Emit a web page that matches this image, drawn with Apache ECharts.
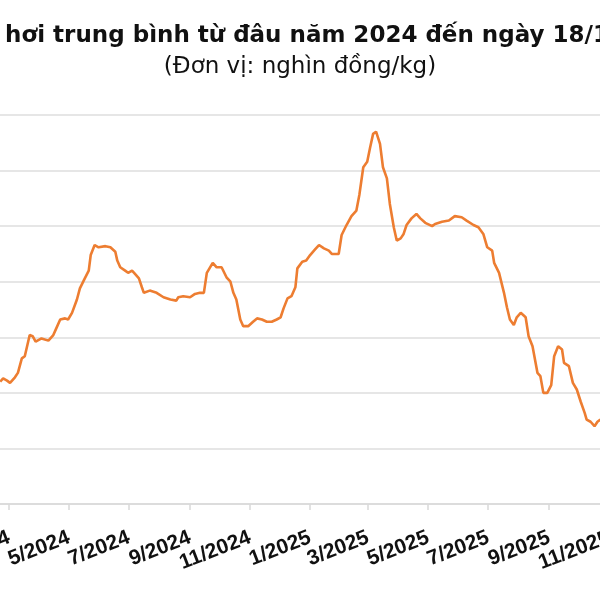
<!DOCTYPE html>
<html>
<head>
<meta charset="utf-8">
<script src="https://cdn.jsdelivr.net/npm/echarts@6/dist/echarts.min.js"></script>
<style>
  html, body { margin: 0; padding: 0; background: #fff; }
  #main { width: 600px; height: 600px; }
</style>
</head>
<body>
<div id="main"></div>
<script>
// giá lợn hơi trung bình, nghìn đồng/kg
const dates = [
  '2024-02-21', '2024-02-24', '2024-02-28', '2024-03-02', '2024-03-07', '2024-03-10',
  '2024-03-14', '2024-03-17', '2024-03-22', '2024-03-25', '2024-03-28', '2024-04-03',
  '2024-04-10', '2024-04-15', '2024-04-18', '2024-04-22', '2024-04-27', '2024-04-30',
  '2024-05-04', '2024-05-09', '2024-05-12', '2024-05-17', '2024-05-21', '2024-05-23',
  '2024-05-27', '2024-05-31', '2024-06-07', '2024-06-12', '2024-06-17', '2024-06-19',
  '2024-06-22', '2024-06-27', '2024-06-30', '2024-07-04', '2024-07-07', '2024-07-11',
  '2024-07-14', '2024-07-16', '2024-07-22', '2024-07-29', '2024-08-05', '2024-08-12',
  '2024-08-18', '2024-08-20', '2024-08-25', '2024-09-01', '2024-09-06', '2024-09-11',
  '2024-09-15', '2024-09-18', '2024-09-24', '2024-09-28', '2024-10-03', '2024-10-08',
  '2024-10-12', '2024-10-15', '2024-10-18', '2024-10-22', '2024-10-25', '2024-10-30',
  '2024-11-04', '2024-11-08', '2024-11-13', '2024-11-18', '2024-11-23', '2024-11-28',
  '2024-12-02', '2024-12-05', '2024-12-09', '2024-12-13', '2024-12-17', '2024-12-19',
  '2024-12-24', '2024-12-28', '2025-01-01', '2025-01-06', '2025-01-10', '2025-01-15',
  '2025-01-20', '2025-01-23', '2025-01-30', '2025-02-02', '2025-02-07', '2025-02-12',
  '2025-02-17', '2025-02-20', '2025-02-24', '2025-02-28', '2025-03-03', '2025-03-06',
  '2025-03-09', '2025-03-13', '2025-03-16', '2025-03-20', '2025-03-23', '2025-03-27',
  '2025-03-30', '2025-04-03', '2025-04-06', '2025-04-09', '2025-04-14', '2025-04-19',
  '2025-04-23', '2025-04-28', '2025-05-05', '2025-05-08', '2025-05-15', '2025-05-22',
  '2025-05-28', '2025-06-04', '2025-06-09', '2025-06-16', '2025-06-21', '2025-06-26',
  '2025-06-30', '2025-07-05', '2025-07-07', '2025-07-12', '2025-07-17', '2025-07-20',
  '2025-07-23', '2025-07-27', '2025-07-30', '2025-08-03', '2025-08-08', '2025-08-11',
  '2025-08-15', '2025-08-20', '2025-08-23', '2025-08-26', '2025-08-30', '2025-09-03',
  '2025-09-06', '2025-09-10', '2025-09-14', '2025-09-16', '2025-09-21', '2025-09-25',
  '2025-09-29', '2025-10-03', '2025-10-07', '2025-10-09', '2025-10-13', '2025-10-17',
  '2025-10-20', '2025-10-23'
];
const prices = [
  56.0, 56.3, 56.1, 55.9, 56.4, 56.8,
  58.1, 58.3, 60.2, 60.1, 59.6, 59.9,
  59.7, 60.2, 60.8, 61.6, 61.7, 61.6,
  62.2, 63.4, 64.4, 65.3, 66.0, 67.4,
  68.3, 68.1, 68.2, 68.1, 67.7, 66.9,
  66.3, 66.0, 65.8, 66.0, 65.7, 65.3,
  64.5, 64.0, 64.2, 64.0, 63.6, 63.4,
  63.3, 63.6, 63.7, 63.6, 63.9, 64.0,
  64.0, 65.8, 66.7, 66.3, 66.3, 65.4,
  65.0, 64.0, 63.4, 61.6, 61.0, 61.0,
  61.4, 61.7, 61.6, 61.4, 61.4, 61.6,
  61.8, 62.6, 63.5, 63.7, 64.5, 66.2,
  66.8, 66.9, 67.4, 67.9, 68.3, 68.0,
  67.8, 67.5, 67.5, 69.2, 70.1, 70.9,
  71.4, 72.8, 75.3, 75.8, 77.1, 78.3,
  78.5, 77.4, 75.3, 74.3, 72.0, 69.9,
  68.7, 68.9, 69.3, 70.1, 70.7, 71.1,
  70.7, 70.3, 70.0, 70.2, 70.4, 70.5,
  70.9, 70.8, 70.5, 70.1, 69.9, 69.3,
  68.1, 67.8, 66.7, 65.8, 64.0, 62.7,
  61.6, 61.1, 61.8, 62.2, 61.8, 60.1,
  59.2, 56.8, 56.5, 55.0, 55.0, 55.7,
  58.3, 59.2, 58.9, 57.7, 57.4, 55.9,
  55.3, 54.2, 53.2, 52.6, 52.4, 52.0,
  52.4, 52.6
];
const tickDates = [
  '2024-03-01', '2024-05-01', '2024-07-01', '2024-09-01', '2024-11-01', '2025-01-01',
  '2025-03-01', '2025-05-01', '2025-07-01', '2025-09-01', '2025-11-01'
];
const tickLabels = [
  '3/2024', '5/2024', '7/2024', '9/2024', '11/2024', '1/2025',
  '3/2025', '5/2025', '7/2025', '9/2025', '11/2025'
];

// ngày tính từ 1/1/2024
function toDay(s) {
  const p = s.split('-').map(Number);
  return Math.round((Date.UTC(p[0], p[1] - 1, p[2]) - Date.UTC(2024, 0, 1)) / 86400000);
}

const tickDays = tickDates.map(toDay);
const lineData = dates.map((d, i) => [toDay(d), prices[i]]);

const chart = echarts.init(document.getElementById('main'));
chart.setOption({
  animation: false,
  title: [
    {
      text: 'Giá lợn hơi trung bình từ đâu năm 2024 đến ngày 18/11/2025',
      left: 297,
      textAlign: 'center',
      top: 20,
      textStyle: {
        fontFamily: 'DejaVu Sans',
        fontSize: 23,
        fontWeight: 'bold',
        color: '#111'
      }
    },
    {
      text: '(Đơn vị: nghìn đồng/kg)',
      left: 295,
      textAlign: 'center',
      top: 51,
      textStyle: {
        fontFamily: 'DejaVu Sans',
        fontSize: 23,
        fontWeight: 'normal',
        color: '#111'
      }
    }
  ],
  grid: {
    left: -50,
    right: -26,
    top: 115,
    bottom: 96,
    containLabel: false,
    outerBoundsMode: 'none'
  },
  xAxis: {
    type: 'value',
    min: 0,
    max: toDay('2025-11-18'),
    axisLine: { lineStyle: { color: '#d9d9d9', width: 1.5 } },
    axisTick: {
      show: true,
      length: 6,
      customValues: tickDays,
      lineStyle: { color: '#d9d9d9', width: 1.5 }
    },
    axisLabel: {
      customValues: tickDays,
      rotate: 21,
      margin: 33,
      hideOverlap: false,
      fontFamily: 'Liberation Sans',
      fontSize: 21,
      fontWeight: 'bold',
      color: '#111',
      formatter: (val) => tickLabels[tickDays.indexOf(val)] || ''
    },
    splitLine: { show: false }
  },
  yAxis: {
    type: 'value',
    min: 45,
    max: 80,
    interval: 5,
    axisLine: { show: false },
    axisTick: { show: false },
    axisLabel: { color: '#333', fontSize: 16 },
    splitLine: { lineStyle: { color: '#dedede', width: 1.5 } }
  },
  series: [
    {
      type: 'line',
      data: lineData,
      showSymbol: false,
      lineStyle: { color: '#ED7D31', width: 2.6 },
      itemStyle: { color: '#ED7D31' }
    }
  ]
});
</script>
</body>
</html>
